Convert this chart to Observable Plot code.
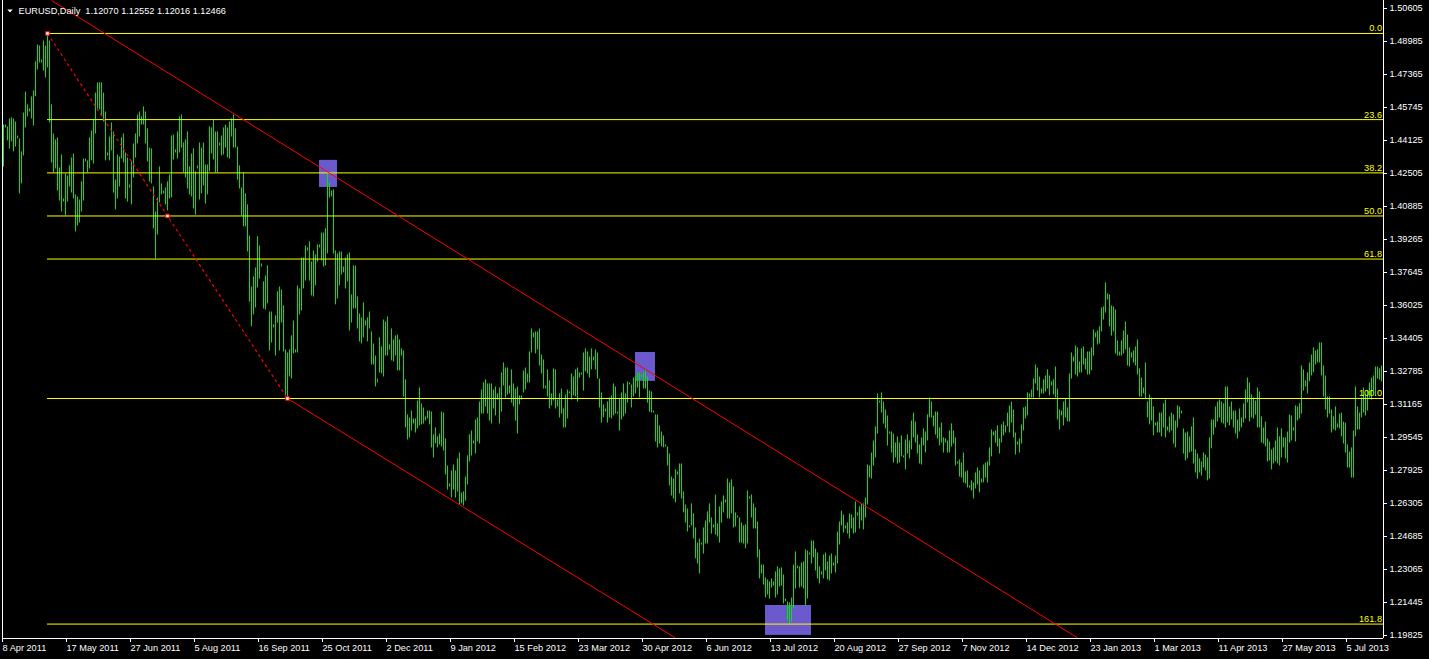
<!DOCTYPE html>
<html>
<head>
<meta charset="utf-8">
<script src="https://cdn.jsdelivr.net/npm/d3@7"></script>
<script src="https://cdn.jsdelivr.net/npm/@observablehq/plot@0.6"></script>
<style>
  html, body { margin: 0; padding: 0; background: #000; }
  #chart svg { display: block; }
</style>
</head>
<body>
<div id="chart"></div>
<script>
// ---- Daily EURUSD bars, price x 10 000 (high / low), bar 0 = 8 Apr 2011 ----
const highA = [
14486,14486,14477,14516,14521,14516,14501,14432,14418,14354,
14545,14648,14585,14565,14624,14653,14796,14879,14874,14805,
14899,14874,14938,14899,14585,14442,14413,14423,14275,14339,
14123,14246,14236,14285,14324,14344,14143,14133,14118,14207,
14319,14319,14310,14423,14457,14511,14643,14693,14693,14693,
14643,14550,14349,14427,14496,14452,14216,14339,14329,14423,
14442,14349,14324,14192,14305,14393,14442,14535,14550,14526,
14575,14550,14467,14373,14369,14182,14059,14128,14280,14197,
14162,14177,14207,14241,14432,14437,14364,14452,14526,14535,
14398,14413,14452,14280,14344,14369,14256,14285,14398,14373,
14398,14290,14290,14477,14472,14511,14452,14452,14398,14432,
14472,14486,14472,14501,14516,14535,14467,14378,14285,14177,
14251,14148,14094,13941,13691,13740,13784,13937,13892,13804,
13716,13745,13794,13568,13568,13505,13549,13667,13691,13676,
13598,13382,13367,13382,13451,13524,13382,13696,13681,13833,
13833,13892,13883,13912,13814,13868,13848,13897,13897,13956,
13956,13976,14246,14202,14162,14167,13868,13853,13863,13863,
13789,13833,13848,13858,13652,13794,13794,13642,13559,13539,
13613,13524,13539,13568,13470,13411,13352,13239,13441,13397,
13529,13519,13544,13406,13485,13431,13451,13455,13431,13387,
13377,13235,13063,13048,13082,13043,13043,13131,13195,13117,
13097,13053,13082,13082,13077,12965,12999,12955,12969,13077,
13072,12945,12812,12724,12788,12817,12788,12847,12876,12680];
const lowA = [
14285,14477,14413,14373,14408,14359,14383,14423,14153,14202,
14339,14477,14531,14555,14521,14486,14629,14761,14796,14796,
14756,14722,14771,14501,14305,14256,14275,14167,14118,14064,
14113,14045,14113,14187,14157,14128,13966,13995,14010,14064,
14118,14310,14256,14275,14315,14300,14447,14560,14565,14535,
14506,14315,14339,14315,14364,14157,14074,14128,14187,14324,
14305,14128,14113,14182,14099,14231,14329,14398,14432,14491,
14491,14398,14310,14211,14202,13981,13833,13951,14108,14148,
14153,14099,14069,14128,14133,14319,14354,14324,14354,14378,
14256,14231,14177,14148,14138,14079,14049,14275,14123,14153,
14192,14103,14148,14261,14349,14319,14256,14256,14388,14339,
14344,14378,14329,14324,14432,14378,14378,14221,14177,14045,
13991,13991,13868,13622,13500,13559,13593,13691,13735,13794,
13588,13583,13613,13382,13421,13495,13357,13519,13382,13519,
13377,13161,13146,13254,13244,13367,13372,13372,13559,13578,
13686,13725,13873,13725,13652,13647,13701,13819,13887,13824,
13794,13799,13858,14133,14138,13858,13608,13637,13701,13755,
13765,13686,13721,13480,13519,13588,13588,13490,13426,13416,
13446,13505,13426,13490,13313,13313,13205,13225,13274,13269,
13254,13357,13357,13387,13333,13328,13357,13284,13284,13357,
13156,13004,12945,12955,12989,13023,12979,12999,13014,13019,
13023,13038,13048,13019,12906,12857,12925,12906,12920,12911,
12891,12773,12699,12714,12660,12699,12660,12689,12626,12631];
const highB = [
12685,12758,12862,12965,12984,12935,13038,13048,13126,13185,
13220,13235,13215,13215,13215,13185,13200,13166,13195,13269,
13318,13293,13293,13205,13284,13215,13190,13200,13156,13156,
13279,13293,13264,13372,13485,13465,13470,13470,13485,13357,
13333,13205,13284,13230,13166,13289,13284,13136,13166,13190,
13092,13161,13185,13176,13264,13249,13284,13293,13269,13269,
13367,13387,13372,13347,13387,13347,13382,13367,13239,13171,
13112,13092,13126,13146,13156,13215,13200,13077,13141,13171,
13215,13166,13225,13220,13210,13244,13254,13269,13269,13259,
13269,13279,13249,13180,13176,13082,13063,13063,13009,12979,
12960,12916,12906,12871,12758,12748,12793,12783,12822,12822,
12685,12621,12601,12518,12626,12577,12508,12434,12454,12434,
12508,12542,12587,12626,12557,12523,12670,12528,12611,12636,
12665,12645,12748,12729,12744,12709,12582,12567,12557,12533,
12518,12523,12690,12660,12670,12626,12606,12537,12400,12326,
12326,12263,12253,12243,12258,12243,12292,12317,12307,12312,
12277,12159,12145,12140,12164,12326,12390,12321,12317,12336,
12341,12400,12395,12385,12444,12444,12405,12385,12317,12292,
12375,12385,12341,12370,12380,12336,12370,12488,12537,12591,
12572,12518,12533,12577,12572,12557,12636,12582,12611,12626,
12626,12655,12817,12812,12876,12935,13004,13166,13131,13171,
13126,13087,13058,12979,12979,12969,12925,12955,12925,12960,
12862,12940,12965,12935,13033,13072,13028,12965,12916,12950];
const lowB = [
12621,12645,12724,12837,12866,12925,12876,12935,12925,13072,
13072,13107,13072,13038,13023,13097,13063,13141,13023,13082,
13210,13151,13166,13171,13126,13107,13038,12974,13117,13141,
13176,13190,13225,13225,13372,13446,13367,13387,13308,13269,
13195,13195,13156,13097,13112,13136,13097,13107,13053,13072,
13004,13004,13048,13171,13141,13161,13156,13131,13249,13264,
13185,13279,13269,13249,13289,13333,13289,13244,13102,13028,
13053,13082,13028,13053,13048,13063,13072,13072,12989,13043,
13058,13072,13126,13215,13102,13156,13171,13200,13151,13249,
13195,13195,13126,13082,13077,13077,12935,12906,12925,12911,
12906,12911,12817,12719,12670,12655,12636,12773,12680,12655,
12587,12537,12493,12513,12523,12459,12361,12336,12287,12429,
12385,12434,12434,12537,12483,12513,12478,12469,12439,12537,
12587,12636,12557,12557,12582,12513,12518,12562,12439,12439,
12434,12410,12434,12655,12562,12508,12508,12366,12263,12287,
12233,12169,12184,12164,12218,12228,12169,12184,12223,12228,
12140,12150,12061,12042,12051,12115,12213,12312,12218,12223,
12213,12130,12164,12380,12336,12366,12302,12263,12238,12282,
12263,12302,12258,12253,12287,12326,12292,12336,12429,12523,
12488,12508,12483,12459,12508,12483,12488,12572,12508,12547,
12503,12562,12626,12758,12753,12817,12857,12974,13126,13077,
13023,12999,12915,12974,12881,12832,12857,12827,12832,12862,
12857,12798,12876,12852,12896,12955,12930,12876,12827,12822];
const highC = [
12994,12979,13063,13146,13126,13058,13077,13077,12999,13023,
12950,12945,12935,12984,13019,12984,12950,12832,12842,12827,
12876,12783,12788,12714,12739,12729,12778,12803,12788,12748,
12817,12827,12832,12901,12989,12979,12984,13009,12945,13014,
13028,13009,13072,13107,13126,13087,12974,12930,12945,13014,
13097,13102,13171,13166,13185,13239,13308,13293,13249,13190,
13235,13254,13284,13254,13225,13235,13298,13190,13087,13082,
13126,13141,13097,13264,13367,13347,13401,13392,13323,13387,
13397,13338,13372,13372,13392,13480,13465,13475,13495,13588,
13593,13711,13657,13652,13598,13593,13578,13426,13372,13426,
13475,13519,13455,13392,13367,13377,13397,13431,13289,13244,
13195,13318,13126,13161,13146,13102,13023,13028,13072,13072,
13117,13136,13004,13053,13072,13063,13033,13107,13102,13082,
12994,12974,12979,12955,13004,13048,12891,12871,12847,12832,
12876,12866,12852,12950,13038,13038,13102,13126,13136,13126,
13117,13200,13200,13102,13126,13082,13082,13038,13092,13048,
13117,13185,13244,13220,13161,13146,13131,13195,13176,13053,
12999,13028,12945,12930,12891,12901,12935,12999,12955,12994,
12950,12950,12979,13063,13058,12999,13107,13102,13117,13303,
13284,13230,13269,13318,13357,13392,13377,13382,13416,13416,
13303,13254,13151,13151,13087,13053,13102,13019,13067,13072,
13028,13023,12916,12881,12901,12984,13200,13102,13072,13146,
13195,13161,13180,13220,13244,13254,13298,13298,13289,13303];
const lowC = [
12916,12881,12940,13053,13053,13009,12969,12950,12916,12930,
12881,12930,12881,12881,12911,12925,12817,12827,12763,12758,
12734,12729,12709,12709,12695,12655,12704,12724,12685,12734,
12734,12758,12734,12817,12862,12965,12930,12911,12876,12930,
12965,12979,13009,12979,13028,12955,12871,12920,12881,12925,
12989,13048,13063,13151,13151,13151,13220,13185,13151,13171,
13171,13180,13195,13161,13210,13166,13151,13043,12994,13063,
13014,13053,13033,13033,13244,13328,13264,13254,13274,13274,
13313,13289,13264,13264,13284,13357,13446,13411,13416,13475,
13534,13568,13632,13500,13455,13475,13367,13357,13357,13357,
13367,13387,13308,13303,13347,13323,13308,13264,13156,13156,
13171,13146,13053,13019,13038,12965,13014,12979,12979,12960,
13004,12955,12989,12979,12989,12925,12906,13004,13048,13072,
12876,12842,12852,12881,12886,12827,12783,12753,12783,12768,
12807,12793,12744,12753,12901,12969,13004,13033,13053,13028,
13023,13004,13028,13014,13043,13004,12974,12950,12984,13004,
13028,13048,13126,13033,13053,13048,13067,13004,13004,12930,
12925,12911,12837,12842,12798,12827,12837,12827,12817,12857,
12906,12852,12832,12930,12940,12989,12935,13038,13048,13072,
13185,13205,13171,13230,13259,13274,13313,13323,13323,13259,
13156,13092,13053,13072,12979,12994,12989,13004,12999,12960,
12925,12881,12807,12807,12758,12758,12960,12994,12994,13053,
13077,13063,13087,13151,13141,13185,13161,13244,13239,13230];

// ---- axis labels ----
const priceTicks = [1.50605,1.48985,1.47365,1.45745,1.44125,1.42505,1.40885,1.39265,1.37645,1.36025,
                    1.34405,1.32785,1.31165,1.29545,1.27925,1.26305,1.24685,1.23065,1.21445,1.19825];
const dateTickBars = [0,32,64,96,128,160,192,224,256,288,320,352,384,416,448,480,512,544,576,608,640,672];
const dateLabels = ["8 Apr 2011","17 May 2011","27 Jun 2011","5 Aug 2011","16 Sep 2011","25 Oct 2011",
  "2 Dec 2011","9 Jan 2012","15 Feb 2012","23 Mar 2012","30 Apr 2012","6 Jun 2012","13 Jul 2012",
  "20 Aug 2012","27 Sep 2012","7 Nov 2012","14 Dec 2012","23 Jan 2013","1 Mar 2013","11 Apr 2013",
  "27 May 2013","5 Jul 2013"];

// ---- Fibonacci retracement (anchored high -> low) ----
const fibAnchorBars = [22, 82, 142];
const fibAnchorPrices = [1.4938, 1.4042, 1.3146];
const fibLevels = [0, 23.6, 38.2, 50, 61.8, 100, 161.8];
const fibLabels = ["0.0", "23.6", "38.2", "50.0", "61.8", "100.0", "161.8"];

// ---- red channel lines (bar, price) ----
const channelStartBars = [24, 142];
const channelStartPrices = [1.5100, 1.3146];
const channelEndBars = [537, 336];
const channelEndPrices = [1.1971, 1.1970];

// ---- blue zones ----
const zoneFromBar = [158, 316, 381];
const zoneToBar = [167, 326, 404];
const zoneTop = [1.4315, 1.3372, 1.2130];
const zoneBottom = [1.4182, 1.3230, 1.1983];

const headerText = "EURUSD,Daily\u00a0\u00a01.12070 1.12552 1.12016 1.12466";

// ---- build tables ----
const highAll = [...highA, ...highB, ...highC];
const lowAll = [...lowA, ...lowB, ...lowC];
const NBARS = highAll.length;
const bars = highAll.map((h, i) => ({i, high: h / 1e4, low: lowAll[i] / 1e4}));
const fHi = fibAnchorPrices[0], fLo = fibAnchorPrices[2];
const fibs = fibLevels.map((l, k) => ({label: fibLabels[k], price: fHi - l / 100 * (fHi - fLo)}));
const fibPts = fibAnchorBars.map((b, k) => ({bar: b, price: fibAnchorPrices[k]}));
const channels = channelStartBars.map((b, k) => ({x1: b, y1: channelStartPrices[k], x2: channelEndBars[k], y2: channelEndPrices[k]}));
const fibTrend = [{x1: fibAnchorBars[0], y1: fibAnchorPrices[0], x2: fibAnchorBars[2], y2: fibAnchorPrices[2]}];
const zones = zoneFromBar.map((b, k) => ({x1: b, x2: zoneToBar[k], y1: zoneBottom[k], y2: zoneTop[k]}));

const barColor = "#00e800";
const yBottom = 1.19678, yTop = 1.50998;

const triangle = {draw(ctx) { ctx.moveTo(-2.7, -1.6); ctx.lineTo(2.7, -1.6); ctx.lineTo(0, 1.6); ctx.closePath(); }};

const chart = Plot.plot({
  width: 1429,
  height: 659,
  marginTop: 0,
  marginBottom: 21,
  marginLeft: 3,
  marginRight: 46,
  x: {type: "linear", domain: [0, NBARS]},
  y: {type: "linear", domain: [yBottom, yTop]},
  style: {background: "#000", color: "#fff", fontFamily: "'Liberation Sans', Arial, sans-serif", fontSize: "9.2px"},
  marks: [
    Plot.rect(zones, {x1: "x1", x2: "x2", y1: "y1", y2: "y2", fill: "#6a5acd"}),
    Plot.ruleX(bars, {x: "i", y1: "high", y2: "low", stroke: barColor, strokeWidth: 1, insetTop: -0.5, insetBottom: -0.5}),
    Plot.ruleY(fibs, {y: "price", x1: () => fibAnchorBars[0], x2: () => NBARS, stroke: "#ffff00"}),
    Plot.link(channels, {x1: "x1", y1: "y1", x2: "x2", y2: "y2", stroke: "#ff0000", strokeWidth: 1}),
    Plot.link(fibTrend, {x1: "x1", y1: "y1", x2: "x2", y2: "y2", stroke: "#ff0000", strokeWidth: 1.2, strokeDasharray: "3,3"}),
    Plot.dot(fibPts, {x: "bar", y: "price", symbol: "square", r: 2, fill: "#fff", stroke: "#ff0000", strokeWidth: 1}),
    Plot.text(fibs, {x: () => NBARS, y: "price", text: "label", textAnchor: "end", dx: -1.5, dy: -5, fill: "#ffff00"}),
    // frame lines
    Plot.ruleX([-0.5, NBARS], {stroke: "#fff"}),
    Plot.ruleY([yBottom], {x1: () => -0.5, x2: () => NBARS, stroke: "#fff"}),
    // axes
    Plot.axisY(priceTicks, {anchor: "right", tickFormat: d => d.toFixed(5), tickSize: 3, tickPadding: 3, label: null}),
    Plot.axisX(dateTickBars, {anchor: "bottom", tickFormat: d => dateLabels[dateTickBars.indexOf(d)], tickSize: 4, tickPadding: 2, textAnchor: "start", dx: -1, label: null}),
    // header
    Plot.dot([0], {frameAnchor: "top-left", dx: 6.5, dy: 10.5, r: 3, symbol: triangle, fill: "#fff", stroke: "none"}),
    Plot.text([headerText], {frameAnchor: "top-left", dx: 15, dy: 10.5, textAnchor: "start", lineAnchor: "middle", fill: "#fff"})
  ]
});
document.getElementById("chart").appendChild(chart);
</script>
</body>
</html>
